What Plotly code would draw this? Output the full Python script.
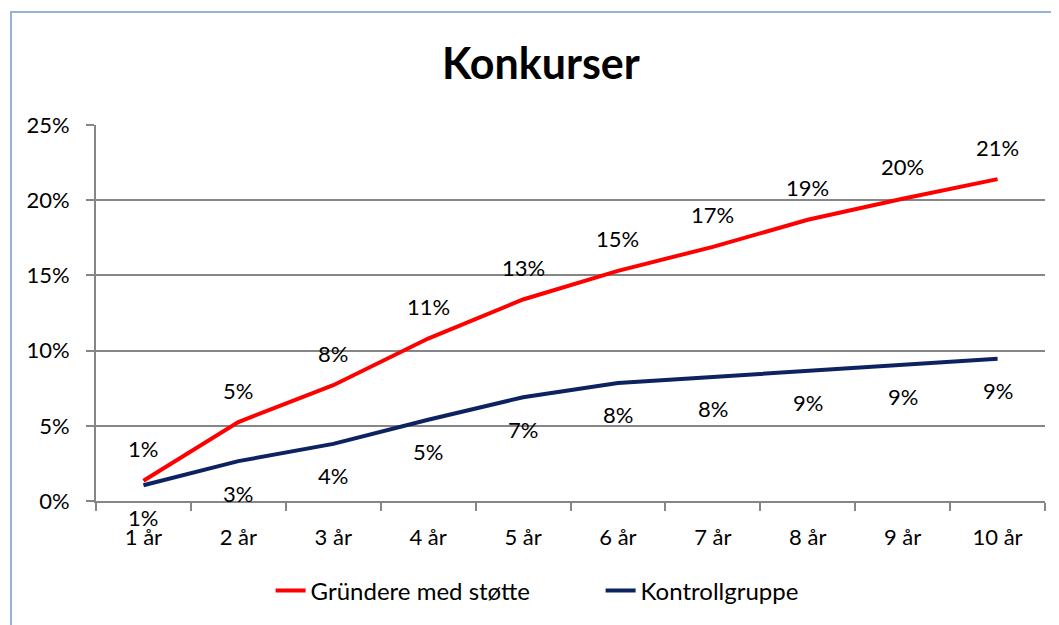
import plotly.graph_objects as go

years = ["1 år", "2 år", "3 år", "4 år", "5 år", "6 år", "7 år", "8 år", "9 år", "10 år"]
gruendere = [1.35, 5.25, 7.7, 10.8, 13.4, 15.3, 16.9, 18.7, 20.1, 21.4]
kontroll = [1.05, 2.65, 3.8, 5.4, 6.9, 7.85, 8.25, 8.65, 9.1, 9.45]
series_names = ["Gründere med støtte", "Kontrollgruppe"]
y_ticks = [0, 5, 10, 15, 20, 25]

FONT = "Lato"
# page body has an 8px margin, so the figure is a bit smaller than the window
W, H = 1051, 617
L, R, T, B = 88, 14, 117, 124

fig = go.Figure()
fig.add_trace(go.Scatter(x=years, y=gruendere, mode="lines", name=series_names[0],
                         line=dict(color="#ff0000", width=4)))
fig.add_trace(go.Scatter(x=years, y=kontroll, mode="lines", name=series_names[1],
                         line=dict(color="#0d2260", width=4)))

# data labels: red above, navy below
annotations = []
for x, v in zip(years, gruendere):
    annotations.append(dict(x=x, y=v, text=f"{round(v)}%", showarrow=False,
                            yshift=32, font=dict(size=22, color="black", family=FONT)))
for x, v in zip(years, kontroll):
    annotations.append(dict(x=x, y=v, text=f"{round(v)}%", showarrow=False,
                            yshift=-32, font=dict(size=22, color="black", family=FONT)))

# chart border (light blue, only left and top visible)
pw, ph = W - L - R, H - T - B
border = dict(type="rect", xref="paper", yref="paper",
              x0=(3 - L) / pw, x1=(W + 10 - L) / pw,
              y0=-(B + 10) / ph, y1=(H - B - 4) / ph,
              line=dict(color="#95b3d7", width=2), fillcolor="rgba(0,0,0,0)")

fig.update_layout(
    width=W, height=H,
    margin=dict(l=L, r=R, t=T, b=B),
    plot_bgcolor="white", paper_bgcolor="white",
    font=dict(family=FONT, size=22, color="black"),
    title=dict(text="<b>Konkurser</b>", x=0.507, xanchor="center", y=0.909, yanchor="middle",
               font=dict(size=43, family=FONT, color="black")),
    xaxis=dict(range=[-0.5, 9.5], showgrid=False, showline=True, linecolor="#868686", linewidth=2,
               ticks="outside", tickson="boundaries", ticklen=8, tickcolor="#868686",
               tickwidth=2, tickfont=dict(size=22), ticklabelstandoff=16),
    yaxis=dict(range=[0, 25], tickvals=y_ticks, ticktext=[f"{t}%" for t in y_ticks],
               showgrid=True, gridcolor="#868686", gridwidth=2,
               showline=True, linecolor="#868686", linewidth=2,
               ticks="outside", ticklen=8, tickcolor="#868686", tickwidth=2,
               zeroline=False, tickfont=dict(size=22), ticklabelstandoff=12),
    legend=dict(orientation="h", x=0.184, xanchor="left", y=-0.239, yanchor="middle",
                font=dict(size=24), entrywidth=285),
    annotations=annotations,
    shapes=[border],
)

fig.write_html("out.html")
